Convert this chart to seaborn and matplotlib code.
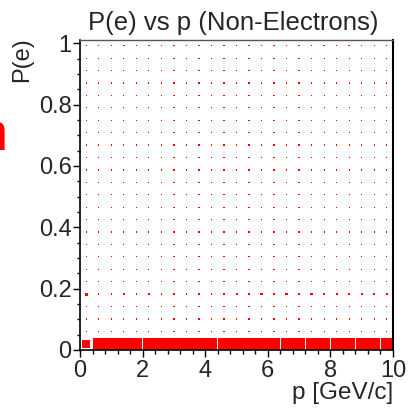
import numpy as np
import pandas as pd
import matplotlib
matplotlib.use("Agg")
import matplotlib.pyplot as plt
from matplotlib.ticker import MultipleLocator, FuncFormatter
import seaborn as sns

# ---- data ----
p_centers = [0.2, 0.6, 1.0, 1.4, 1.8, 2.2, 2.6, 3.0, 3.4, 3.8, 4.2, 4.6, 5.0,
             5.4, 5.8, 6.2, 6.6, 7.0, 7.4, 7.8, 8.2, 8.6, 9.0, 9.4, 9.8]
pe_centers = [0.02025, 0.06075, 0.10125, 0.14175, 0.18225, 0.22275, 0.26325,
              0.30375, 0.34425, 0.38475, 0.42525, 0.46575, 0.50625, 0.54675,
              0.58725, 0.62775, 0.66825, 0.70875, 0.74925, 0.78975, 0.83025,
              0.87075, 0.91125, 0.95175, 0.99225]
# relative box side (content / max) in the lowest P(e) row
bottom_row = [0.62, 0.92, 1.00, 1.00, 0.96, 1.00, 1.00, 1.00, 1.00, 0.96,
              0.96, 0.97, 0.97, 0.97, 0.97, 0.96, 0.95, 0.96, 0.97, 0.97,
              0.97, 0.96, 0.95, 0.95, 0.96]
# relative box side in the P(e) ~ 0.18 row
row_018 = [0.24, 0.11, 0.11, 0.11, 0.11, 0.11, 0.11, 0.11, 0.11, 0.11,
           0.11, 0.13, 0.16, 0.13, 0.18, 0.18, 0.18, 0.18, 0.18, 0.13,
           0.18, 0.18, 0.18, 0.18, 0.18]
# typical relative box side for the remaining rows (index 1..24, row 4 given above)
dot_level = [None, 0.10, 0.10, 0.10, None, 0.10, 0.10, 0.10, 0.10, 0.10,
             0.10, 0.10, 0.10, 0.10, 0.10, 0.10, 0.10, 0.10, 0.10, 0.10,
             0.10, 0.10, 0.10, 0.10, 0.11]

rows = []
for j, pe in enumerate(pe_centers):
    for i, p in enumerate(p_centers):
        if j == 0:
            f = bottom_row[i]
        elif j == 4:
            f = row_018[i]
        else:
            f = dot_level[j]
        rows.append({"p": p, "pe": pe, "area": f * f})
df = pd.DataFrame(rows)

# ---- figure ----
sns.set_style("ticks")
plt.rcParams["font.family"] = ["Liberation Sans", "DejaVu Sans"]

W = 409
PT = 0.72  # points per pixel at dpi 100
fig = plt.figure(figsize=(4.09, 4.09), dpi=100)
ax = fig.add_axes([80 / W, 1 - 350 / W, 313 / W, 310.5 / W])

bin_px = 12.5
smax = (bin_px * PT) ** 2
sns.scatterplot(data=df, x="p", y="pe", size="area", sizes=(0, smax),
                size_norm=(0, 1), marker="s", color="#ff0000", linewidth=0,
                legend=False, ax=ax)

ax.set_xlim(0, 10)
ax.set_ylim(0, 1.0125)
ax.set_xlabel("")
ax.set_ylabel("")
ax.xaxis.set_major_locator(MultipleLocator(2))
ax.xaxis.set_minor_locator(MultipleLocator(0.4))
ax.yaxis.set_major_locator(MultipleLocator(0.2))
ax.yaxis.set_minor_locator(MultipleLocator(0.05))
ax.yaxis.set_major_formatter(FuncFormatter(lambda v, _: f"{v:g}"))
ax.xaxis.set_major_formatter(FuncFormatter(lambda v, _: f"{v:g}"))
ax.tick_params(which="major", direction="out", length=7 * PT, width=1,
               labelsize=17, color="black")
ax.tick_params(axis="y", which="major", pad=1)
ax.tick_params(axis="x", which="major", pad=2)
ax.tick_params(which="minor", direction="out", length=3.5 * PT, width=1,
               color="black")
for s in ["left", "bottom"]:
    ax.spines[s].set_color("black")
    ax.spines[s].set_linewidth(1.2)
ax.spines["top"].set_color("#555555")
ax.spines["top"].set_linewidth(1.0)
ax.spines["right"].set_color("black")
ax.spines["right"].set_linewidth(1.5)

fig.text(233 / W, 1 - 30 / W, "P(e) vs p (Non-Electrons)", ha="center",
         va="baseline", fontsize=18.5)
fig.text(393 / W, 1 - 399 / W, "p [GeV/c]", ha="right", va="baseline",
         fontsize=17.5)
fig.text(22 / W, 1 - 60 / W, "P(e)", rotation=90, ha="center", va="center",
         fontsize=17)
fig.text(8 / W, 1 - 150 / W, "n", ha="right", va="baseline", fontsize=39,
         color="#ff0000")

fig.savefig("out.png", dpi=100)
